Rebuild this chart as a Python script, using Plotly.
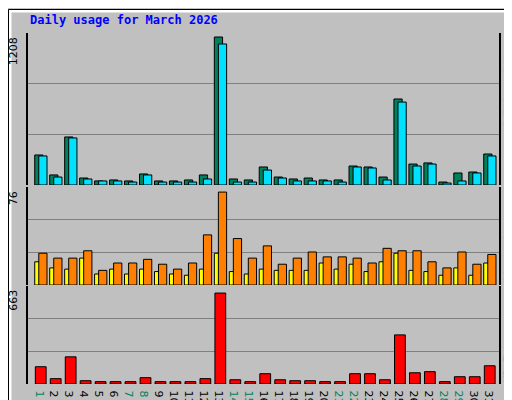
import plotly.graph_objects as go

# daily stats
days = list(range(1, 32))
hits = [245, 82, 392, 57, 33, 41, 33, 90, 33, 33, 41, 82, 1208, 49, 41, 147,
        65, 49, 57, 41, 41, 155, 147, 65, 702, 171, 180, 24, 98, 106, 253]
files = [237, 65, 384, 49, 33, 33, 24, 82, 24, 24, 24, 49, 1151, 24, 24, 122,
         57, 33, 33, 33, 24, 147, 139, 41, 677, 155, 171, 16, 33, 98, 237]
visits = [19, 14, 13, 22, 9, 13, 9, 13, 11, 9, 8, 13, 26, 11, 9, 13,
          12, 12, 12, 18, 13, 17, 11, 19, 26, 12, 11, 8, 14, 8, 18]
sites = [26, 22, 22, 28, 12, 18, 18, 21, 17, 13, 18, 41, 76, 38, 22, 32,
         17, 22, 27, 23, 23, 22, 18, 30, 28, 28, 19, 14, 27, 17, 25]
kbytes = [126, 39, 198, 24, 17, 17, 17, 46, 17, 17, 17, 39, 663, 31, 17, 75,
          31, 24, 24, 17, 17, 75, 75, 31, 358, 82, 90, 17, 53, 53, 133]
weekend = [1, 7, 8, 14, 15, 21, 22, 28, 29]

tick_text = ['<span style="color:#00805c">%d</span>' % d if d in weekend else str(d)
             for d in days]

line = dict(color="black", width=1)
fig = go.Figure()
fig.add_bar(x=days, y=hits, width=0.55, offset=-0.42, marker=dict(color="#00805c", line=line), yaxis="y")
fig.add_bar(x=days, y=files, width=0.55, offset=-0.15, marker=dict(color="#00e0ff", line=line), yaxis="y")
fig.add_bar(x=days, y=visits, width=0.55, offset=-0.42, marker=dict(color="#ffff00", line=line), yaxis="y2")
fig.add_bar(x=days, y=sites, width=0.55, offset=-0.15, marker=dict(color="#ff8000", line=line), yaxis="y2")
fig.add_bar(x=days, y=kbytes, width=0.72, offset=-0.38, marker=dict(color="#ff0000", line=line), yaxis="y3")

ymax = [max(hits) * 152 / 148, max(sites) * 98 / 93, max(kbytes) * 98 / 91]
doms = [[0.567, 1.0], [0.282, 0.561], [0.0, 0.279]]
for i, name in enumerate(["yaxis", "yaxis2", "yaxis3"]):
    fig.layout[name] = dict(domain=doms[i], range=[0, ymax[i]], tickvals=[ymax[i] / 3, ymax[i] * 2 / 3],
                            showticklabels=False, ticks="", gridcolor="#808080", gridwidth=1,
                            showline=True, linecolor="black", linewidth=2, mirror=True,
                            zeroline=False, anchor="x", fixedrange=True, automargin=False)

fig.update_layout(
    width=512, height=400, barmode="overlay", showlegend=False,
    paper_bgcolor="#c0c0c0", plot_bgcolor="#c0c0c0",
    margin=dict(l=20, r=21, t=25, b=24, autoexpand=False),
    xaxis=dict(range=[0.13, 31.6], tickvals=days, ticktext=tick_text, ticks="",
               anchor="y3", automargin=False,
               showgrid=False, showline=False, zeroline=False,
               tickfont=dict(family="DejaVu Sans", size=11, color="black")),
    font=dict(family="DejaVu Sans Mono"),
)

anns = [
    dict(x=0, y=1.012, xref="paper", yref="paper", xanchor="left", yanchor="bottom",
         text="<b>Daily usage for March 2026</b>", showarrow=False,
         font=dict(family="DejaVu Sans Mono", size=12, color="#0000ff")),
]
for i, lab in enumerate([str(max(hits)), str(max(sites)), str(max(kbytes))]):
    anns.append(dict(x=-0.013, y=doms[i][1] - 0.005, xref="paper", yref="paper", xanchor="right",
                     yanchor="top", text=lab, textangle=-90, showarrow=False,
                     font=dict(family="DejaVu Sans", size=11, color="black")))
right = [
    '<span style="color:#00c0ff">Pages</span> / <span style="color:#0040ff">Files</span> / <span style="color:#00805c">Hits</span>',
    '<span style="color:#ff8000">Sites</span> / <span style="color:#ffff00">Visits</span>',
    '<span style="color:#ff0000">KB F</span>',
]
for i, t in enumerate(right):
    anns.append(dict(x=1.003, y=doms[i][1] if i < 2 else doms[i][0], xref="paper", yref="paper",
                     xanchor="left", yanchor="top" if i < 2 else "bottom", text=t, textangle=-90,
                     showarrow=False, font=dict(family="DejaVu Sans Mono", size=11, color="black")))
fig.update_layout(annotations=anns)

# outer frame
fig.update_layout(shapes=[
    dict(type="rect", xref="paper", yref="paper", x0=-18 / 471, x1=489 / 471, y0=-21 / 351, y1=373 / 351,
         line=dict(color="white", width=3)),
    dict(type="rect", xref="paper", yref="paper", x0=-19.5 / 471, x1=491 / 471, y0=-23.5 / 351, y1=374.5 / 351,
         line=dict(color="black", width=1)),
    dict(type="line", xref="paper", yref="paper", x0=488 / 471, x1=488 / 471, y0=-20 / 351, y1=370 / 351,
         line=dict(color="#808080", width=4)),
    dict(type="line", xref="paper", yref="paper", x0=-16 / 471, x1=488 / 471, y0=-21 / 351, y1=-21 / 351,
         line=dict(color="#808080", width=4)),
])

fig.write_html("out.html")
